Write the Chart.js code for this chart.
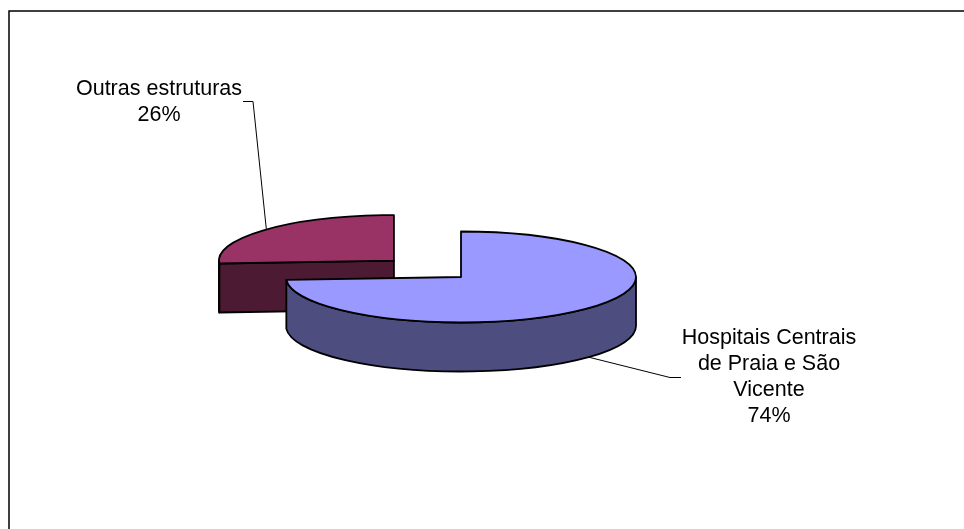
<!DOCTYPE html>
<html>
<head>
<meta charset="utf-8">
<title>Estruturas</title>
<script src="https://cdn.jsdelivr.net/npm/chart.js@4"></script>
<style>
  html, body { margin: 0; padding: 0; background: #fff; }
  canvas { display: block; }
</style>
</head>
<body>
<canvas id="pieChart" width="964" height="529"></canvas>
<script>
// Share of the total by structure type, drawn as a tilted 3D pie

const categories = ['Hospitais Centrais de Praia e São Vicente', 'Outras estruturas'];
const labelLines = [['Hospitais Centrais', 'de Praia e São', 'Vicente'], ['Outras estruturas']];
const shares = [74, 26];

// Point on the rim of a piece, squashed by the tilt and dropped by dz
function rim(p, t, tilt, dz) {
    return [p.cx + p.r * Math.cos(t), p.cy + p.r * tilt * Math.sin(t) + dz];
}

function drawPiece(ctx, p, o) {
    const ry = p.r * o.tilt;
    const d = o.depth;
    ctx.lineWidth = 1.8;
    ctx.strokeStyle = '#000';
    ctx.lineJoin = 'round';

    // cut faces, only the ones turned towards the viewer
    [[p.a, Math.cos(p.a) < -1e-3], [p.b, Math.cos(p.b) > 1e-3]].forEach(([t, visible]) => {
        if (!visible) return;
        const e = rim(p, t, o.tilt, 0);
        ctx.beginPath();
        ctx.moveTo(p.cx, p.cy);
        ctx.lineTo(e[0], e[1]);
        ctx.lineTo(e[0], e[1] + d);
        ctx.lineTo(p.cx, p.cy + d);
        ctx.closePath();
        ctx.fillStyle = o.side[p.i];
        ctx.fill();
        ctx.stroke();
    });

    // outer wall on the front half of the ellipse
    for (let k = -1; k <= 2; k++) {
        const lo = Math.max(p.a, 2 * Math.PI * k);
        const hi = Math.min(p.b, 2 * Math.PI * k + Math.PI);
        if (hi <= lo) continue;
        const e = rim(p, hi, o.tilt, d);
        ctx.beginPath();
        ctx.ellipse(p.cx, p.cy, p.r, ry, 0, lo, hi);
        ctx.lineTo(e[0], e[1]);
        ctx.ellipse(p.cx, p.cy + d, p.r, ry, 0, hi, lo, true);
        ctx.closePath();
        ctx.fillStyle = o.side[p.i];
        ctx.fill();
        ctx.stroke();
    }

    // top face
    ctx.beginPath();
    ctx.moveTo(p.cx, p.cy);
    ctx.ellipse(p.cx, p.cy, p.r, ry, 0, p.a, p.b);
    ctx.closePath();
    ctx.fillStyle = o.top[p.i];
    ctx.fill();
    ctx.stroke();
}

const pie3d = {
    id: 'pie3d',
    beforeDraw(chart) {
        // frame (only the top and left edges fall inside the canvas)
        const ctx = chart.ctx;
        ctx.save();
        ctx.strokeStyle = '#000';
        ctx.lineWidth = 1.5;
        ctx.beginPath();
        ctx.moveTo(9, chart.height);
        ctx.lineTo(9, 11);
        ctx.lineTo(chart.width, 11);
        ctx.stroke();
        ctx.restore();
    },
    afterDatasetsDraw(chart, args, o) {
        const ctx = chart.ctx;
        const meta = chart.getDatasetMeta(0);
        const total = shares.reduce((s, v) => s + v, 0);

        const pieces = meta.data.map((arc, i) => {
            const {x, y, startAngle, endAngle, outerRadius} =
                arc.getProps(['x', 'y', 'startAngle', 'endAngle', 'outerRadius'], true);
            const mid = (startAngle + endAngle) / 2;
            const off = arc.options.offset || 0;
            return {
                i, a: startAngle, b: endAngle, mid, r: outerRadius,
                cx: x + Math.cos(mid) * off,
                cy: y + Math.sin(mid) * off * o.tilt
            };
        });

        ctx.save();
        // back pieces first so the front ones cover them
        pieces.slice().sort((p, q) => p.cy - q.cy).forEach(p => drawPiece(ctx, p, o));

        // leader lines and labels
        pieces.forEach(p => {
            const lab = o.labels[p.i];
            const front = Math.sin(p.mid) > 0;
            const s = rim(p, p.mid, o.tilt, front ? o.depth : 0);
            ctx.beginPath();
            ctx.moveTo(s[0], s[1]);
            ctx.lineTo(lab.elbow[0], lab.elbow[1]);
            ctx.lineTo(lab.end[0], lab.end[1]);
            ctx.lineWidth = 1;
            ctx.strokeStyle = '#000';
            ctx.stroke();

            const lines = labelLines[p.i].concat(Math.round(shares[p.i] / total * 100) + '%');
            ctx.fillStyle = '#000';
            ctx.font = '21.5px "Liberation Sans", Arial, sans-serif';
            ctx.textAlign = 'center';
            ctx.textBaseline = 'alphabetic';
            lines.forEach((t, j) => ctx.fillText(t, lab.x, lab.y + j * 26));
        });
        ctx.restore();
    }
};

const pieChart = new Chart(document.getElementById('pieChart'), {
    type: 'pie',
    data: {
        labels: categories,
        datasets: [{
            data: shares,
            radius: 175,
            offset: [0, 92],
            backgroundColor: 'rgba(0,0,0,0)',
            borderWidth: 0
        }]
    },
    options: {
        responsive: false,
        animation: false,
        events: [],
        layout: {
            padding: { left: 286, right: 328, top: 102, bottom: 77 }
        },
        plugins: {
            legend: { display: false },
            tooltip: { enabled: false },
            pie3d: {
                tilt: 0.26,
                depth: 49,
                top: ['#9999ff', '#993366'],
                side: ['#4d4d80', '#4d1a33'],
                labels: [
                    { x: 769, y: 344, elbow: [670, 377.5], end: [681, 377.5] },
                    { x: 159, y: 95, elbow: [253, 101.5], end: [243, 101.5] }
                ]
            }
        }
    },
    plugins: [pie3d]
});
</script>
</body>
</html>
